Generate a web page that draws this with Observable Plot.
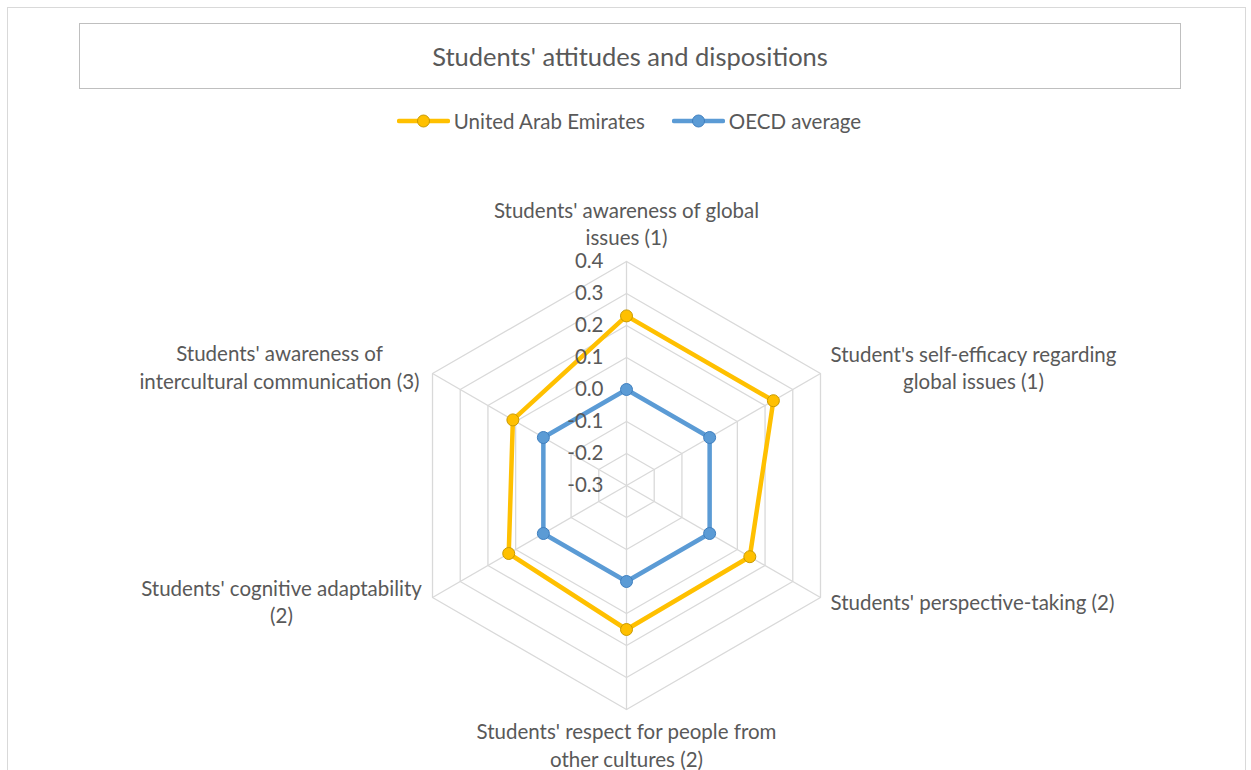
<!DOCTYPE html>
<html><head><meta charset="utf-8">
<script src="https://cdn.jsdelivr.net/npm/d3@7"></script>
<script src="https://cdn.jsdelivr.net/npm/@observablehq/plot@0.6"></script>
<style>
body{margin:0;background:#fff;font-family:Lato,sans-serif;color:#595959;width:1251px;height:770px;overflow:hidden;position:relative}
#frame{position:absolute;left:7px;top:7px;width:1239px;height:800px;border:1px solid #d9d9d9;box-sizing:border-box}
#title{position:absolute;left:79px;top:23px;width:1102px;height:66px;box-sizing:border-box;border:1.5px solid #bfbfbf;display:flex;align-items:center;justify-content:center;font-size:25.5px}
#legend{position:absolute;left:0;top:109px;width:1258px;display:flex;justify-content:center;gap:27px;font-size:20.5px;line-height:24px}
.item{display:flex;align-items:center;gap:4px}
#chart{position:absolute;left:0;top:150px}
</style></head><body>
<div id="frame"></div>
<div id="title"></div>
<div id="legend"></div>
<div id="chart"></div>
<script>
// ---- data ----
const chartTitle = "Students' attitudes and dispositions";
const categories = [
  "Students' awareness of global\nissues (1)",
  "Student's self-efficacy regarding\nglobal issues (1)",
  "Students' perspective-taking (2)",
  "Students' respect for people from\nother cultures (2)",
  "Students' cognitive adaptability\n(2)",
  "Students' awareness of\nintercultural communication (3)"
];
const seriesNames = ["United Arab Emirates", "OECD average"];
const uaeValues = [0.23, 0.23, 0.145, 0.15, 0.125, 0.11];
const oecdValues = [0.0, 0.0, 0.0, 0.0, 0.0, 0.0];
const tickValues = [-0.3, -0.2, -0.1, 0.0, 0.1, 0.2, 0.3, 0.4];

// ---- styles / layout ----
const colors = ["#FFC000", "#5B9BD5"];
const markerStroke = ["#C99A00", "#3F7FBF"];
const W = 1251, H = 620, cx = 626, cy = 335, k = 320;
const labelOffsets = [[0,-39],[153,-7],[152,4],[0,34.5],[-151,3],[-153,-7.5]];
const font = "Lato, sans-serif";

const rMin = tickValues[0], rMax = tickValues[tickValues.length - 1];
const n = categories.length;
const ang = i => (i % n) * 2 * Math.PI / n;
const px = (v, i) => (v - rMin) * Math.sin(ang(i));
const py = (v, i) => (v - rMin) * Math.cos(ang(i));

const rings = tickValues.slice(1).flatMap(l => d3.range(n + 1).map(i => ({l, x: px(l, i), y: py(l, i)})));
const spokes = categories.map((c, i) => ({x: px(rMax, i), y: py(rMax, i)}));
const seriesVals = [uaeValues, oecdValues];
const pts = seriesNames.flatMap((s, si) => d3.range(n + 1).map(i => ({s, si, v: seriesVals[si][i % n], x: px(seriesVals[si][i % n], i), y: py(seriesVals[si][i % n], i), last: i === n})));

document.getElementById("title").textContent = chartTitle;
const legend = document.getElementById("legend");
seriesNames.forEach((s, si) => {
  const it = document.createElement("div");
  it.className = "item";
  it.innerHTML = `<svg width="53" height="16"><line x1="2" x2="51" y1="8" y2="8" stroke="${colors[si]}" stroke-width="4.5" stroke-linecap="round"/><circle cx="26.5" cy="8" r="6" fill="${colors[si]}" stroke="${markerStroke[si]}" stroke-width="1"/></svg><span>${s}</span>`;
  legend.appendChild(it);
});

const marks = [
  Plot.line(rings, {x: "x", y: "y", z: "l", stroke: "#d9d9d9", strokeWidth: 1.3}),
  Plot.link(spokes, {x1: 0, y1: 0, x2: "x", y2: "y", stroke: "#d9d9d9", strokeWidth: 1.3}),
  Plot.line(pts, {x: "x", y: "y", z: "s", stroke: d => colors[d.si], strokeWidth: 4.5, strokeLinejoin: "miter"}),
  Plot.dot(pts.filter(d => !d.last), {x: "x", y: "y", r: 6, fill: d => colors[d.si], stroke: d => markerStroke[d.si], strokeWidth: 1}),
  Plot.text(tickValues, {x: 0, y: d => d - rMin, text: d => d.toFixed(1), textAnchor: "end", dx: -23, fontSize: 20.5, fill: "#595959"}),
  ...categories.map((c, i) => Plot.text([c], {x: px(rMax, i), y: py(rMax, i), text: d => d, textAnchor: "middle", lineAnchor: "middle", lineHeight: 1.34, dx: labelOffsets[i][0], dy: labelOffsets[i][1], fontSize: 20.5, fill: "#595959"}))
];

const chart = Plot.plot({
  width: W, height: H, margin: 0,
  style: {fontFamily: font, background: "transparent", overflow: "visible"},
  x: {domain: [-cx / k, (W - cx) / k], axis: null},
  y: {domain: [-(H - cy) / k, cy / k], axis: null},
  marks
});
document.getElementById("chart").appendChild(chart);
</script>
</body></html>
